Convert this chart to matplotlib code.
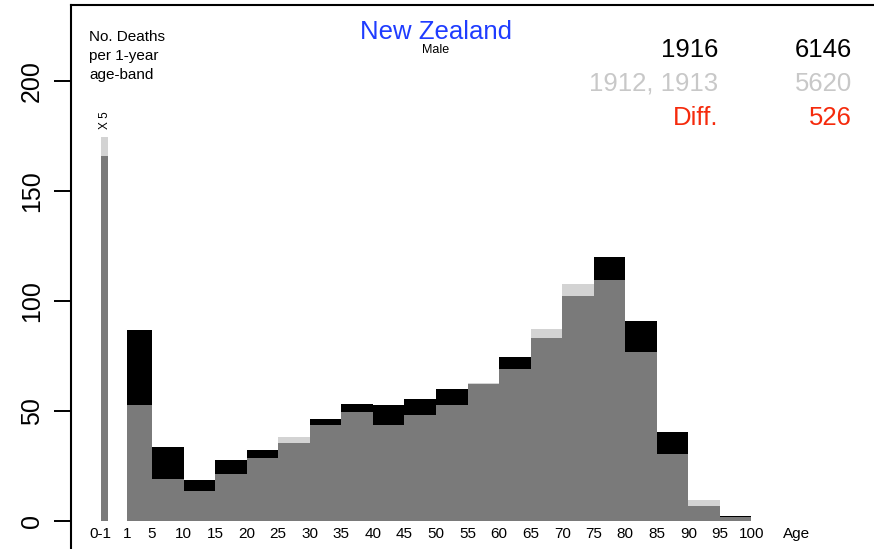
import numpy as np
import matplotlib.pyplot as plt

plt.rcParams['font.family'] = ['Liberation Sans', 'DejaVu Sans']

# age bands (1-year death rate per band)
band_start = [1, 5, 10, 15, 20, 25, 30, 35, 40, 45, 50, 55, 60, 65, 70, 75, 80, 85, 90, 95]
band_width = [4, 5, 5, 5, 5, 5, 5, 5, 5, 5, 5, 5, 5, 5, 5, 5, 5, 5, 5, 5]
deaths_1916 = [86.7, 33.4, 18.5, 27.6, 32.1, 35.2, 46.2, 53.0, 52.4, 55.5,
               59.9, 62.2, 74.5, 83.0, 102.1, 119.7, 90.8, 40.2, 6.8, 2.1]
deaths_base = [52.6, 18.9, 13.6, 21.2, 28.4, 37.9, 43.4, 49.4, 43.5, 47.9,
               52.6, 62.7, 68.9, 87.1, 107.4, 109.4, 76.7, 30.3, 9.3, 1.9]
# infants 0-1, shown x 5
infant_1916 = 166.0
infant_base = 174.5

x_labels = ['0-1', '1', '5', '10', '15', '20', '25', '30', '35', '40', '45',
            '50', '55', '60', '65', '70', '75', '80', '85', '90', '95', '100']
x_label_pos = [-3.25, 1, 5, 10, 15, 20, 25, 30, 35, 40, 45,
               50, 55, 60, 65, 70, 75, 80, 85, 90, 95, 100]

tot_1916, tot_base = 6146, 5620

GREY = '#7a7a7a'
LIGHT = '#d3d3d3'

W, H = 874, 549
fig = plt.figure(figsize=(W / 100, H / 100), dpi=100)
# axes box runs off the right and bottom of the picture
x0, x1, y0, y1 = 71, 900, 560, 5
ax = fig.add_axes([x0 / W, 1 - y0 / H, (x1 - x0) / W, (y0 - y1) / H])

a = np.array(deaths_1916)
b = np.array(deaths_base)
lo = np.minimum(a, b)
ax.bar(band_start, lo, width=band_width, align='edge', color=GREY, lw=0)
ax.bar(band_start, np.where(a > b, a - b, 0), bottom=b, width=band_width,
       align='edge', color='black', lw=0)
ax.bar(band_start, np.where(b > a, b - a, 0), bottom=a, width=band_width,
       align='edge', color=LIGHT, lw=0)

# infant bar
ax.bar(-3.09, min(infant_1916, infant_base), width=1.1, align='edge', color=GREY, lw=0)
ax.bar(-3.09, infant_base - infant_1916, bottom=infant_1916, width=1.1,
       align='edge', color=LIGHT, lw=0)
ax.text(-2.5, infant_base + 3.5, 'X 5', rotation=90, ha='center', va='bottom', fontsize=8.5)

px = 6.31  # pixels per year
ax.set_xlim(1 + (x0 - 126.8) / px, 1 + (x1 - 126.8) / px)
ax.set_ylim((520.7 - y0) / 2.2, (520.7 - y1) / 2.2)

for lab, xp in zip(x_labels, x_label_pos):
    ax.text(xp, -6.05, lab, ha='center', va='center', fontsize=11)
ax.text(107.2, -6.05, 'Age', ha='center', va='center', fontsize=11)

ax.set_xticks([])
ax.set_yticks([0, 50, 100, 150, 200])
ax.tick_params(axis='y', length=12, width=1.4, labelsize=18, pad=7.5, labelrotation=90)
for lbl in ax.get_yticklabels():
    lbl.set_va('center')
ax.spines['right'].set_visible(False)
ax.spines['bottom'].set_visible(False)
for s in ['left', 'top']:
    ax.spines[s].set_linewidth(1.5)

def ft(xp, yp, s, **kw):
    fig.text(xp / W, 1 - yp / H, s, **kw)

ft(89, 37, 'No. Deaths', fontsize=11, va='center')
ft(89, 56, 'per 1-year', fontsize=11, va='center')
ft(89, 75, 'age-band', fontsize=11, va='center')

ft(436, 32, 'New Zealand', fontsize=18.5, color='#1f3cff', ha='center', va='center')
ft(436, 50, 'Male', fontsize=9, ha='center', va='center')

ft(718, 50, '1916', fontsize=18.5, ha='right', va='center')
ft(852, 50, str(tot_1916), fontsize=18.5, ha='right', va='center')
ft(718, 84, '1912, 1913', fontsize=18.5, ha='right', va='center', color='#c8c8c8')
ft(852, 84, str(tot_base), fontsize=18.5, ha='right', va='center', color='#c8c8c8')
ft(718, 118, 'Diff.', fontsize=18.5, ha='right', va='center', color='#f52a0c')
ft(852, 118, str(tot_1916 - tot_base), fontsize=18.5, ha='right', va='center', color='#f52a0c')

fig.savefig('out.png', dpi=100)
